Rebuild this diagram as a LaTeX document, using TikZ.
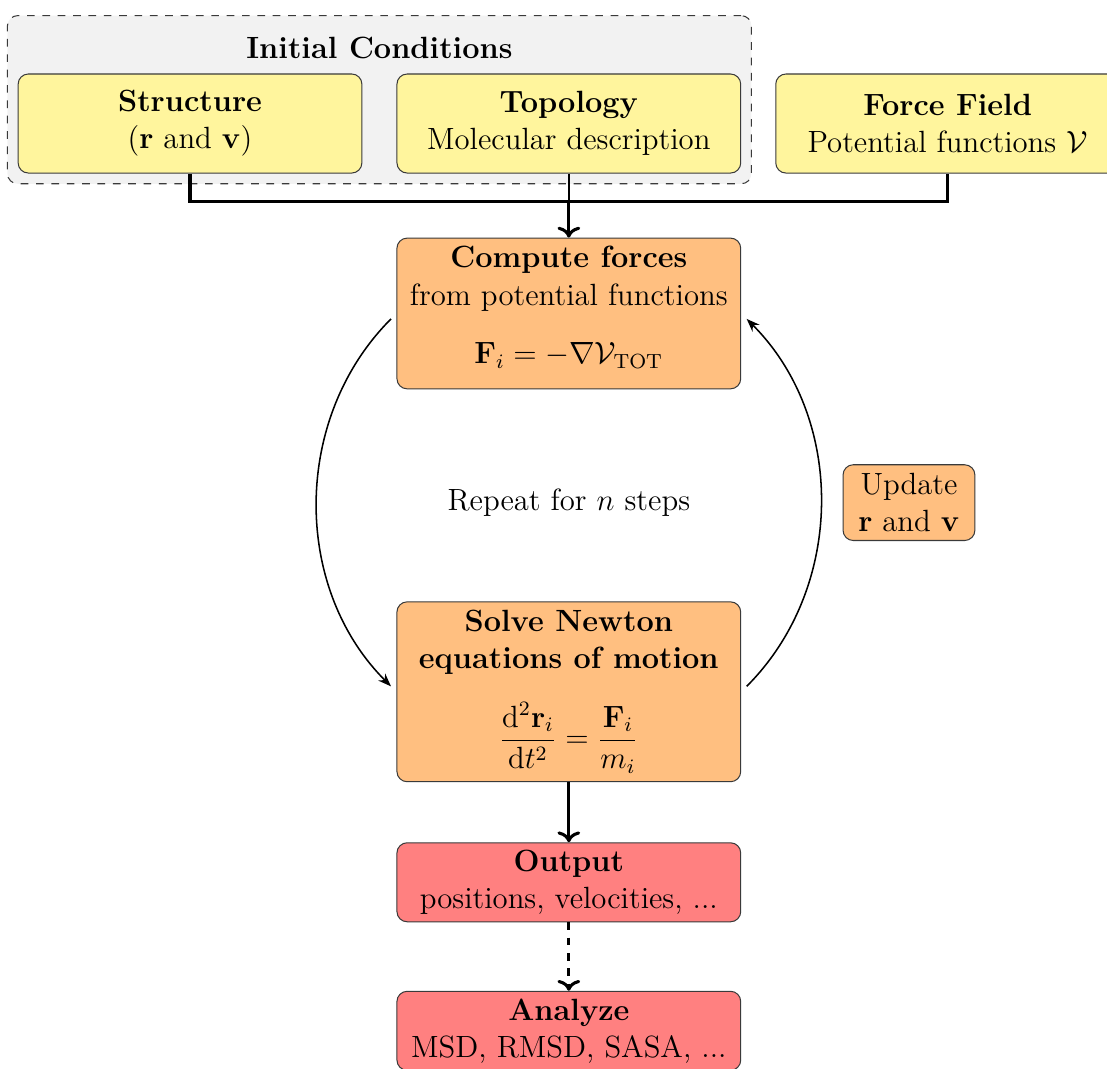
\documentclass[tikz,border=0pt,12pt]{standalone}
\usepackage{amsmath}
\usetikzlibrary{arrows.meta, positioning, fit, backgrounds, calc}
\definecolor{mdyellow}{HTML}{FFF59D}
\definecolor{mdorange}{HTML}{FFBF80}
\definecolor{mdred}{HTML}{FF8080}
\definecolor{mdgray}{HTML}{F2F2F2}
\definecolor{mdedge}{HTML}{3A3A3A}
\tikzset{
  inbox/.style={rectangle, rounded corners=4pt, minimum width=4.72cm, minimum height=1.36cm,
    draw=mdedge, fill=mdyellow, align=center},
  stage/.style={rectangle, rounded corners=4pt, minimum width=4.72cm, inner ysep=1pt,
    draw=mdedge, fill=mdorange, align=center},
  outbox/.style={rectangle, rounded corners=4pt, minimum width=4.72cm, minimum height=1.085cm,
    inner ysep=2.5pt, draw=mdedge, fill=mdred, align=center},
  icgroup/.style={rectangle, rounded corners=4pt, draw=mdedge, dashed, fill=mdgray, inner sep=0.14cm},
  link/.style={very thick, black},
  arr/.style={->, very thick},
  cyclearr/.style={-{Stealth[length=1.8mm]}, semithick, shorten <=3pt, shorten >=3pt},
}

\begin{document}
\begin{tikzpicture}
  \useasboundingbox (-2.609,1.696) rectangle (12.59,-12.968);
  % initial conditions
  \node[inbox] (struct) {\textbf{Structure}\\ ($\mathbf{r}$ and $\mathbf{v}$)};
  \node[inbox, right=0.467cm of struct] (topo) {\textbf{Topology}\\ Molecular description};
  \node[inbox, right=0.467cm of topo] (ff) {\textbf{Force Field}\\ Potential functions $\mathcal{V}$};
  \node[font=\bfseries] (ictitle) at ($(struct.north)!0.5!(topo.north)+(0,0.357)$) {Initial Conditions};
  \begin{scope}[on background layer]
    \node[icgroup, fit=(struct)(topo)(ictitle)] (ic) {};
  \end{scope}
  \coordinate[below=0.385cm of topo.south] (join);

  % MD loop
  \node[stage, minimum height=2.07cm, below=0.879cm of topo] (cmp)
    {\textbf{Compute forces}\\ from potential functions\\[8.5pt]
     $\mathbf{F}_i = -\nabla\mathcal{V}_{\mathrm{TOT}}$\rule[-6.5pt]{0pt}{1pt}};
  \node[stage, minimum height=2.47cm, below=2.91cm of cmp] (slv)
    {\textbf{Solve Newton}\\ \textbf{equations of motion}\\[10pt]
     $\dfrac{\mathrm{d}^2\mathbf{r}_i}{\mathrm{d}t^2} = \dfrac{\mathbf{F}_i}{m_i}$};
  \node (rpt) at ($(cmp)!0.5!(slv)$) {Repeat for $n$ steps};
  \node[stage, minimum width=1.81cm, minimum height=1.04cm] (upd) at ($(rpt)+(4.67,0)$)
    {Update\\ $\mathbf{r}$ and $\mathbf{v}$};

  % results
  \node[outbox, below=0.824cm of slv] (out) {\textbf{Output}\\ positions, velocities, ...};
  \node[outbox, below=0.94cm of out] (ana) {\textbf{Analyze}\\ MSD, RMSD, SASA, ...};

  \draw[link] (struct.south) -- (struct.south |- join) -- (ff.south |- join) -- (ff.south);
  \draw[thick] (topo.south) -- (join);
  \draw[arr] (join) -- (cmp.north);
  \draw[cyclearr] (cmp.west) to[bend right=45] (slv.west);
  \draw[cyclearr] (slv.east) to[bend right=45] (cmp.east);
  \draw[arr] (slv) -- (out);
  \draw[arr, dashed] (out) -- (ana);
\end{tikzpicture}
\end{document}
